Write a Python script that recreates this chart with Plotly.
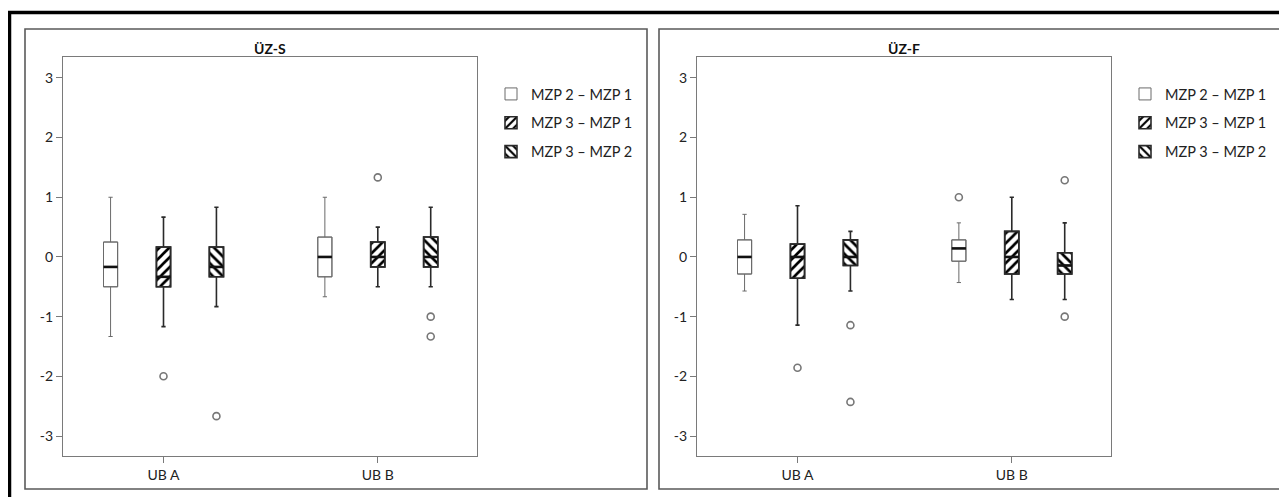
import plotly.graph_objects as go

# ---------------- data ----------------
categories = ["UB A", "UB B"]
series = ["MZP 2 – MZP 1", "MZP 3 – MZP 1", "MZP 3 – MZP 2"]
panel_titles = ["ÜZ-S", "ÜZ-F"]

# ÜZ-S  (rows = series, columns = categories)
uzs_lower = [[-1.333, -0.667], [-1.167, -0.5], [-0.833, -0.5]]
uzs_q1 = [[-0.5, -0.333], [-0.5, -0.167], [-0.333, -0.167]]
uzs_median = [[-0.167, 0.0], [-0.333, 0.0], [-0.167, 0.0]]
uzs_q3 = [[0.25, 0.333], [0.167, 0.25], [0.167, 0.333]]
uzs_upper = [[1.0, 1.0], [0.667, 0.5], [0.833, 0.833]]
uzs_outliers = [[[], []], [[-2.0], [1.333]], [[-2.667], [-1.0, -1.333]]]

# ÜZ-F
uzf_lower = [[-0.571, -0.429], [-1.143, -0.714], [-0.571, -0.714]]
uzf_q1 = [[-0.286, -0.071], [-0.357, -0.286], [-0.143, -0.286]]
uzf_median = [[0.0, 0.143], [0.0, 0.0], [0.0, -0.143]]
uzf_q3 = [[0.286, 0.286], [0.214, 0.429], [0.286, 0.071]]
uzf_upper = [[0.714, 0.571], [0.857, 1.0], [0.429, 0.571]]
uzf_outliers = [[[], [1.0]], [[-1.857], []], [[-1.143, -2.429], [1.286, -1.0]]]

y_ticks = [-3, -2, -1, 0, 1, 2, 3]

# ---------------- styling ----------------
WIN_W, WIN_H = 1287, 497
OFF = 8                       # default page margin of the HTML body
W, H = WIN_W - OFF, WIN_H - OFF
FONT = "Lato"
offsets = [-0.247, 0.0, 0.247]
box_w = 0.066
patterns = ["", "/", "\\"]
line_cols = ["#6a6a6a", "#2a2a2a", "#2a2a2a"]
line_ws = [1.0, 1.6, 1.6]
axis_col = "#7a7a7a"


def px(x):
    return (x - OFF) / W


def py(y):
    return (H - (y - OFF)) / H


panels = [
    dict(lower=uzs_lower, q1=uzs_q1, med=uzs_median, q3=uzs_q3, upper=uzs_upper, out=uzs_outliers),
    dict(lower=uzf_lower, q1=uzf_q1, med=uzf_median, q3=uzf_q3, upper=uzf_upper, out=uzf_outliers),
]

# pixel layout (window coordinates)
plot_x = [(63, 477), (697, 1111)]
plot_y = (57, 456)
panel_x = [(25, 647), (659, 1281)]
panel_y = (29, 489)

fig = go.Figure()

for p, d in enumerate(panels):
    xa = "x" if p == 0 else "x2"
    ya = "y" if p == 0 else "y2"
    leg = "legend" if p == 0 else "legend2"
    for s in range(len(series)):
        xs = [g + offsets[s] for g in range(len(categories))]
        heights = [hi - lo for lo, hi in zip(d["q1"][s], d["q3"][s])]
        fig.add_trace(go.Bar(
            x=xs, y=heights, base=d["q1"][s], width=box_w,
            marker=dict(color="white",
                        line=dict(color=line_cols[s], width=line_ws[s]),
                        pattern=dict(shape=patterns[s], fgcolor="#000000",
                                     bgcolor="white", size=7, solidity=0.38,
                                     fgopacity=1)),
            name=series[s], legend=leg, legendgroup=f"g{p}{s}",
            xaxis=xa, yaxis=ya, hoverinfo="skip"))
        fig.add_trace(go.Box(
            x=xs, q1=d["q1"][s], median=d["med"][s], q3=d["q3"][s],
            lowerfence=d["lower"][s], upperfence=d["upper"][s],
            width=box_w, whiskerwidth=0.3, fillcolor="rgba(0,0,0,0)",
            line=dict(color=line_cols[s], width=line_ws[s]),
            boxpoints=False, showlegend=False, xaxis=xa, yaxis=ya))
        mx, my = [], []
        for x, m in zip(xs, d["med"][s]):
            mx += [x - box_w / 2, x + box_w / 2, None]
            my += [m, m, None]
        fig.add_trace(go.Scatter(
            x=mx, y=my, mode="lines", line=dict(color="#111111", width=2.6),
            showlegend=False, hoverinfo="skip", xaxis=xa, yaxis=ya))
        ox, oy = [], []
        for g, vals in enumerate(d["out"][s]):
            for v in vals:
                ox.append(xs[g])
                oy.append(v)
        if ox:
            fig.add_trace(go.Scatter(
                x=ox, y=oy, mode="markers",
                marker=dict(symbol="circle-open", size=7, color="#777777",
                            line=dict(width=1.6)),
                showlegend=False, xaxis=xa, yaxis=ya))

axis_common = dict(showline=True, mirror=True, linecolor=axis_col, linewidth=1.3,
                   ticks="outside", ticklen=6, tickcolor=axis_col, tickwidth=1.2,
                   showgrid=False, zeroline=False,
                   tickfont=dict(family=FONT, size=14, color="#222222"))

ydom = [py(plot_y[1]), py(plot_y[0])]
layout_axes = {}
for p in range(2):
    sx = "" if p == 0 else "2"
    layout_axes[f"xaxis{sx}"] = dict(
        axis_common, domain=[px(plot_x[p][0]), px(plot_x[p][1])],
        range=[-0.469, 1.463], tickvals=list(range(len(categories))),
        ticktext=categories, anchor=f"y{sx}")
    layout_axes[f"yaxis{sx}"] = dict(
        axis_common, domain=ydom, range=[-3.335, 3.35],
        tickvals=y_ticks, ticktext=[str(v) for v in y_ticks], anchor=f"x{sx}")

shapes = []
for p in range(2):
    shapes.append(dict(type="rect", xref="paper", yref="paper",
                       x0=px(panel_x[p][0]), x1=px(panel_x[p][1]),
                       y0=py(panel_y[1]), y1=py(panel_y[0]),
                       line=dict(color="#5a5a5a", width=1.6)))
# outer thick frame (left and top visible)
shapes.append(dict(type="line", xref="paper", yref="paper",
                   x0=px(9.5), x1=px(9.5), y0=0, y1=py(11),
                   line=dict(color="black", width=3.5)))
shapes.append(dict(type="line", xref="paper", yref="paper",
                   x0=px(8), x1=1, y0=py(12.5), y1=py(12.5),
                   line=dict(color="black", width=3.5)))

annotations = []
for p in range(2):
    annotations.append(dict(
        text=f"<b>{panel_titles[p]}</b>", xref="paper", yref="paper",
        x=px((plot_x[p][0] + plot_x[p][1]) / 2), y=py(48),
        xanchor="center", yanchor="middle", showarrow=False,
        font=dict(family=FONT, size=14, color="#111111")))

legend_common = dict(xanchor="left", yanchor="top", bgcolor="rgba(0,0,0,0)",
                     font=dict(family=FONT, size=14.5, color="#222222"),
                     traceorder="grouped", tracegroupgap=7)

fig.update_layout(
    width=W, height=H, margin=dict(l=0, r=0, t=0, b=0),
    paper_bgcolor="white", plot_bgcolor="white",
    barmode="overlay", boxmode="overlay",
    font=dict(family=FONT, size=14, color="#222222"),
    shapes=shapes, annotations=annotations,
    legend=dict(legend_common, x=px(491), y=py(78)),
    legend2=dict(legend_common, x=px(491 + 634), y=py(78)),
    **layout_axes)

fig.write_html("out.html")
